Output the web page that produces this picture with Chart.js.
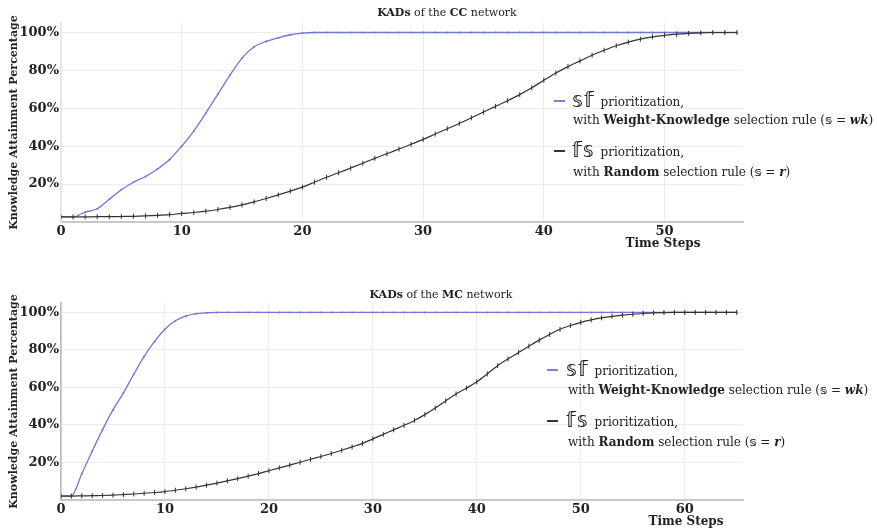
<!DOCTYPE html>
<html>
<head>
<meta charset="utf-8">
<script src="https://cdn.jsdelivr.net/npm/chart.js@4.4.1/dist/chart.umd.min.js"></script>
<style>
  html, body { margin: 0; padding: 0; background: #fff; }
  #wrap { position: relative; width: 877px; height: 530px; overflow: hidden; background: #fff; }
  canvas { position: absolute; left: 0; }
  .txt { position: absolute; font-family: "DejaVu Serif", serif; color: #222; white-space: nowrap; line-height: 16px; }
  .title { font-size: 11px; transform: translateX(-50%); }
  .xtitle { font-size: 12px; font-weight: bold; transform: translateX(-50%); }
  .leg { font-size: 12px; }
  .leg b { font-weight: bold; }
  .ds { font-family: "DejaVu Sans", sans-serif; font-size: 21px; letter-spacing: 1px; vertical-align: -1px; margin-right: 2px; }
  .dsi { font-family: "DejaVu Sans", sans-serif; font-weight: bold; }
  .mi { font-weight: bold; font-style: italic; }
  .dash { position: absolute; height: 2px; width: 11px; }
</style>
</head>
<body>
<div id="wrap">
  <canvas id="ccChart" width="877" height="265" style="top:0"></canvas>
  <canvas id="mcChart" width="877" height="265" style="top:265px"></canvas>

  <div class="txt title" style="left:447px; top:5px"><b>KADs</b> of the <b>CC</b> network</div>
  <div class="txt xtitle" style="left:663px; top:235px">Time Steps</div>
  <div class="dash" style="left:554px; top:100px; background:#7b7fd6"></div>
  <div class="txt leg" style="left:572px; top:92px"><span class="ds">𝕤𝕗</span> prioritization,</div>
  <div class="txt leg" style="left:573px; top:112px">with <b>Weight-Knowledge</b> selection rule (<span class="dsi">𝕤</span> = <span class="mi">wk</span>)</div>
  <div class="dash" style="left:554px; top:150px; background:#333"></div>
  <div class="txt leg" style="left:572px; top:142px"><span class="ds">𝕗𝕤</span> prioritization,</div>
  <div class="txt leg" style="left:573px; top:164px">with <b>Random</b> selection rule (<span class="dsi">𝕤</span> = <span class="mi">r</span>)</div>

  <div class="txt title" style="left:441px; top:287px"><b>KADs</b> of the <b>MC</b> network</div>
  <div class="txt xtitle" style="left:686px; top:513px">Time Steps</div>
  <div class="dash" style="left:547px; top:369px; background:#7b7fd6"></div>
  <div class="txt leg" style="left:566px; top:361px"><span class="ds">𝕤𝕗</span> prioritization,</div>
  <div class="txt leg" style="left:568px; top:382px">with <b>Weight-Knowledge</b> selection rule (<span class="dsi">𝕤</span> = <span class="mi">wk</span>)</div>
  <div class="dash" style="left:547px; top:420px; background:#333"></div>
  <div class="txt leg" style="left:566px; top:412px"><span class="ds">𝕗𝕤</span> prioritization,</div>
  <div class="txt leg" style="left:568px; top:434px">with <b>Random</b> selection rule (<span class="dsi">𝕤</span> = <span class="mi">r</span>)</div>
</div>

<script>
// Knowledge attainment (%) per time step — CC network
const ccWeightKnowledge = [
  2.7, 2.7, 5.2, 7.0, 12, 17, 21, 24, 28, 33,
  40, 48, 57.5, 67.5, 77.5, 86.5, 92.5, 95.3, 97.2, 98.8,
  99.7, 100, 100, 100, 100, 100, 100, 100, 100, 100,
  100, 100, 100, 100, 100, 100, 100, 100, 100, 100,
  100, 100, 100, 100, 100, 100, 100, 100, 100, 100,
  100, 100, 100, 100, 100, 100, 100
];
const ccRandom = [
  2.7, 2.7, 2.7, 2.8, 2.8, 2.9, 3.0, 3.2, 3.5, 3.9,
  4.5, 5.0, 5.7, 6.6, 7.7, 9.0, 10.6, 12.4, 14.3, 16.3,
  18.4, 21, 23.6, 26, 28.5, 31, 33.6, 36, 38.5, 41,
  43.6, 46.4, 49.2, 52, 55, 58, 61, 64, 67.2, 70.8,
  74.8, 78.6, 82, 85, 88, 90.6, 93, 94.9, 96.5, 97.7,
  98.5, 99.1, 99.5, 99.8, 100, 100, 100
];

// Knowledge attainment (%) per time step — MC network
const mcWeightKnowledge = [
  2.2, 2.2, 14, 26, 37.5, 48, 57, 67, 76.5, 84.5,
  91, 95.5, 98, 99.3, 99.8, 100, 100, 100, 100, 100,
  100, 100, 100, 100, 100, 100, 100, 100, 100, 100,
  100, 100, 100, 100, 100, 100, 100, 100, 100, 100,
  100, 100, 100, 100, 100, 100, 100, 100, 100, 100,
  100, 100, 100, 100, 100, 100, 100, 100, 100, 100,
  100, 100, 100, 100, 100, 100
];
const mcRandom = [
  2.1, 2.1, 2.2, 2.3, 2.4, 2.6, 2.9, 3.2, 3.6, 4.0,
  4.5, 5.2, 6.0, 6.9, 7.9, 9.0, 10.2, 11.4, 12.7, 14.1,
  15.6, 17.1, 18.6, 20.1, 21.7, 23.2, 24.8, 26.5, 28.3, 30.2,
  32.6, 35, 37.4, 39.8, 42.4, 45.5, 49, 52.8, 56.5, 59.6,
  63, 67.2, 71.6, 75.2, 78.6, 82, 85.2, 88.2, 91, 93,
  94.7, 96, 97.1, 97.9, 98.5, 99, 99.4, 99.7, 99.9, 100,
  100, 100, 100, 100, 100, 100
];

const ccSteps = ccRandom.map((_, i) => i);
const mcSteps = mcRandom.map((_, i) => i);

const yTickValues = [20, 40, 60, 80, 100];
const ccXTickValues = [0, 10, 20, 30, 40, 50];
const mcXTickValues = [0, 10, 20, 30, 40, 50, 60];

const BLUE = '#7276d4';
const DARK = '#333333';
const FONT = 'DejaVu Serif';

Chart.defaults.font.family = FONT;
Chart.defaults.color = '#222';

function datasets(wk, rnd) {
  return [
    {
      label: 'fs prioritization, Random selection rule',
      data: rnd,
      borderColor: DARK,
      backgroundColor: DARK,
      borderWidth: 1.2,
      pointStyle: 'line',
      rotation: 90,
      pointRadius: 2.5,
      pointBorderWidth: 1,
      cubicInterpolationMode: 'monotone',
      order: 0
    },
    {
      label: 'sf prioritization, Weight-Knowledge selection rule',
      data: wk,
      borderColor: BLUE,
      backgroundColor: BLUE,
      borderWidth: 1.3,
      pointStyle: 'circle',
      pointRadius: 1,
      pointBorderWidth: 0,
      cubicInterpolationMode: 'monotone',
      order: 1
    }
  ];
}

function options(xMax, xTicks, areaTop, areaBottom, leftBorder) {
  const X_AXIS_H = 20;
  return {
    responsive: false,
    animation: false,
    devicePixelRatio: 1,
    layout: { padding: { left: 0, top: areaTop, right: 134, bottom: 265 - areaBottom - X_AXIS_H } },
    plugins: { legend: { display: false }, tooltip: { enabled: false }, title: { display: false } },
    scales: {
      x: {
        type: 'linear',
        min: 0,
        max: xMax,
        afterBuildTicks: s => { s.ticks = xTicks.map(v => ({ value: v })); },
        afterFit: s => { s.height = X_AXIS_H; },
        grid: { color: '#ececec', lineWidth: 1, drawTicks: false },
        border: { display: true, color: '#c8c8c8', width: 2 },
        ticks: { padding: 2, font: { size: 13, weight: 'bold' }, color: '#222', maxRotation: 0 }
      },
      y: {
        min: 0,
        max: 105,
        afterBuildTicks: s => { s.ticks = yTickValues.map(v => ({ value: v })); },
        afterFit: s => { s.width = 61; },
        grid: { color: '#ececec', lineWidth: 1, drawTicks: false },
        border: { display: true, color: leftBorder, width: 1.5 },
        ticks: { padding: 2, font: { size: 13, weight: 'bold' }, color: '#222', callback: v => v + '%' },
        title: {
          display: true,
          text: 'Knowledge Attainment Percentage',
          font: { size: 11, weight: 'bold' },
          color: '#222',
          padding: { top: 8, bottom: 0 }
        }
      }
    }
  };
}

new Chart(document.getElementById('ccChart'), {
  type: 'line',
  data: { labels: ccSteps, datasets: datasets(ccWeightKnowledge, ccRandom) },
  options: options(56.5, ccXTickValues, 23, 222, '#e4e4e4')
});

new Chart(document.getElementById('mcChart'), {
  type: 'line',
  data: { labels: mcSteps, datasets: datasets(mcWeightKnowledge, mcRandom) },
  options: options(65.6, mcXTickValues, 38, 235, '#b8b8b8')
});
</script>
</body>
</html>
